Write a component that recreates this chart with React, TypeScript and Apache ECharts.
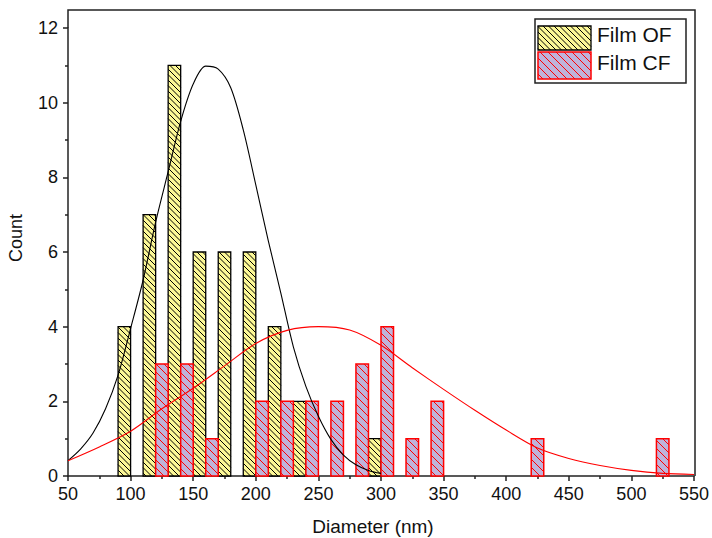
import React, { useEffect, useRef } from "react";
import * as echarts from "echarts";

// Histogram bins (bin start in nm) and counts
const binWidth = 10;
const ofBinStarts = [90, 110, 130, 150, 170, 190, 210, 230, 290];
const ofCounts = [4, 7, 11, 6, 6, 6, 4, 2, 1];
const cfBinStarts = [120, 140, 160, 200, 220, 240, 260, 280, 300, 320, 340, 420, 520];
const cfCounts = [3, 3, 1, 2, 2, 2, 2, 3, 4, 1, 2, 1, 1];

// Fitted distribution curves
const ofFitX = [50, 60, 70, 80, 90, 100, 110, 120, 130, 140, 150, 160, 170, 180, 190, 200, 210, 220, 230, 240, 250, 260, 270, 280, 290, 300];
const ofFitY = [0.41, 0.72, 1.15, 1.8, 2.7, 3.95, 5.25, 6.8, 8.15, 9.5, 10.5, 10.98, 10.9, 10.4, 9.27, 7.8, 6.3, 4.9, 3.46, 2.4, 1.6, 0.98, 0.56, 0.3, 0.15, 0.07];
const cfFitX = [50, 75, 100, 125, 150, 175, 200, 225, 250, 275, 300, 325, 350, 375, 400, 425, 450, 475, 500, 525, 550];
const cfFitY = [0.41, 0.78, 1.2, 1.8, 2.35, 2.95, 3.55, 3.9, 4.0, 3.91, 3.5, 2.9, 2.32, 1.76, 1.23, 0.75, 0.47, 0.28, 0.15, 0.07, 0.04];

const legendItems = ["Film OF", "Film CF"];
const xName = "Diameter (nm)";
const yName = "Count";

const FONT = "'Liberation Sans', Arial, sans-serif";
const OF_FILL = "#FCF896";
const CF_FILL = "#BFB3DA";
const AXIS_COLOR = "#222";

function hatch(x0: number, y0: number, x1: number, y1: number, spacing: number) {
  const segs: number[][] = [];
  const cMin = y0 - x1;
  const cMax = y1 - x0;
  for (let k = Math.ceil(cMin / spacing); k * spacing <= cMax; k++) {
    const c = k * spacing;
    const xa = Math.max(x0, y0 - c);
    const xb = Math.min(x1, y1 - c);
    if (xb - xa > 0.3) segs.push([xa, xa + c, xb, xb + c]);
  }
  return segs;
}

function hatchedBox(
  x0: number, y0: number, x1: number, y1: number,
  st: { fill: string; stroke: string; hatch: string; spacing: number; lw: number; hw: number },
  z?: number
) {
  const zz = z === undefined ? {} : { z };
  const children: any[] = [
    { type: "rect", shape: { x: x0, y: y0, width: x1 - x0, height: y1 - y0 }, style: { fill: st.fill, stroke: "none" }, ...zz },
  ];
  hatch(x0, y0, x1, y1, st.spacing).forEach((s) =>
    children.push({
      type: "line",
      shape: { x1: s[0], y1: s[1], x2: s[2], y2: s[3] },
      style: { stroke: st.hatch, lineWidth: st.hw },
      ...zz,
    })
  );
  children.push({
    type: "rect",
    shape: { x: x0, y: y0, width: x1 - x0, height: y1 - y0 },
    style: { fill: "none", stroke: st.stroke, lineWidth: st.lw },
    ...zz,
  });
  return children;
}

const OF_STYLE = { fill: OF_FILL, stroke: "#000", hatch: "#000", spacing: 5.5, lw: 1.3, hw: 1 };
const CF_STYLE = { fill: CF_FILL, stroke: "#FF0000", hatch: "#FF0000", spacing: 8, lw: 1.5, hw: 1 };

function makeRender(st: typeof OF_STYLE) {
  return (_params: any, api: any) => {
    const x0 = api.value(0);
    const x1 = api.value(1);
    const v = api.value(2);
    const tl = api.coord([x0, v]);
    const br = api.coord([x1, 0]);
    return {
      type: "group",
      children: hatchedBox(tl[0], tl[1], br[0], br[1], st),
    };
  };
}

export default function App() {
  const ref = useRef<HTMLDivElement>(null);

  useEffect(() => {
    document.body.style.margin = "0";
    const chart = echarts.init(ref.current!, undefined, { renderer: "svg" });

    const axisLine = { show: true, lineStyle: { color: AXIS_COLOR, width: 1.5 } };
    const axisTick = { show: true, inside: false, length: 5, lineStyle: { color: AXIS_COLOR, width: 1.5 } };
    const minorTick = { show: true, splitNumber: 2, length: 3, lineStyle: { color: AXIS_COLOR, width: 1.5 } };
    const axisLabel = { fontSize: 18, fontFamily: FONT, color: "#111" };

    const legendGraphics: any[] = [
      {
        type: "rect",
        shape: { x: 535, y: 19, width: 151, height: 64 },
        style: { fill: "#fff", stroke: AXIS_COLOR, lineWidth: 1.5 },
        z: 10,
      },
      ...hatchedBox(538, 26, 591, 50, OF_STYLE, 11),
      ...hatchedBox(538, 52, 591, 79, CF_STYLE, 11),
      {
        type: "text", x: 597, y: 34, z: 11,
        style: { text: legendItems[0], font: `21px ${FONT}`, fill: "#111", verticalAlign: "middle" },
      },
      {
        type: "text", x: 597, y: 62, z: 11,
        style: { text: legendItems[1], font: `21px ${FONT}`, fill: "#111", verticalAlign: "middle" },
      },
    ];

    chart.setOption({
      animation: false,
      backgroundColor: "#fff",
      grid: { left: 68, right: 17, top: 28, bottom: 62, containLabel: false },
      xAxis: {
        type: "value",
        min: 50,
        max: 550,
        interval: 50,
        axisLine,
        axisTick,
        minorTick,
        axisLabel: { ...axisLabel, margin: 9 },
        splitLine: { show: false },
      },
      yAxis: {
        type: "value",
        min: 0,
        max: 12,
        interval: 2,
        axisLine,
        axisTick,
        minorTick,
        axisLabel: { ...axisLabel, margin: 10 },
        splitLine: { show: false },
      },
      graphic: [
        {
          type: "polyline",
          shape: { points: [[68, 28], [68, 10], [695, 10], [695, 476]] },
          style: { stroke: AXIS_COLOR, lineWidth: 1.5, fill: "none" },
          z: 1,
        },
        {
          type: "text", x: 373, y: 526,
          style: { text: xName, font: `19px ${FONT}`, fill: "#111", align: "center", verticalAlign: "middle" },
        },
        {
          type: "text", x: 16, y: 238, rotation: Math.PI / 2,
          style: { text: yName, font: `18px ${FONT}`, fill: "#111", align: "center", verticalAlign: "middle" },
        },
        ...legendGraphics,
      ],
      series: [
        {
          type: "custom",
          name: legendItems[0],
          renderItem: makeRender(OF_STYLE),
          encode: { x: [0, 1], y: 2 },
          data: ofBinStarts.map((s, i) => [s, s + binWidth, ofCounts[i]]),
          z: 2,
        },
        {
          type: "custom",
          name: legendItems[1],
          renderItem: makeRender(CF_STYLE),
          encode: { x: [0, 1], y: 2 },
          data: cfBinStarts.map((s, i) => [s, s + binWidth, cfCounts[i]]),
          z: 2,
        },
        {
          type: "line",
          data: ofFitX.map((x, i) => [x, ofFitY[i]]),
          smooth: 0.3,
          showSymbol: false,
          symbol: "none",
          lineStyle: { color: "#000", width: 1.1 },
          z: 5,
        },
        {
          type: "line",
          data: cfFitX.map((x, i) => [x, cfFitY[i]]),
          smooth: 0.3,
          showSymbol: false,
          symbol: "none",
          lineStyle: { color: "#FF0000", width: 1.1 },
          z: 5,
        },
      ],
    });

    return () => chart.dispose();
  }, []);

  return <div ref={ref} style={{ width: 712, height: 538 }} />;
}
